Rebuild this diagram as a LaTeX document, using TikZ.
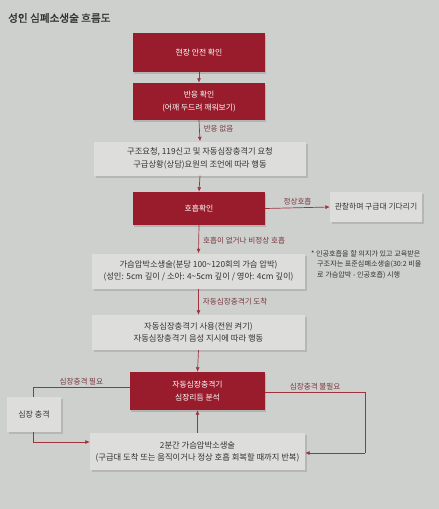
\documentclass[tikz,border=0pt]{standalone}
\usepackage{fontspec}
\newfontfamily\kr{Noto Sans CJK KR}
\newfontfamily\krbold[FakeBold=1.5]{Noto Sans CJK KR}
\usetikzlibrary{arrows.meta,shadows,calc}
\definecolor{bg}{RGB}{206,208,205}
\definecolor{boxred}{RGB}{152,28,43}
\definecolor{boxgray}{RGB}{221,221,219}
\definecolor{linered}{RGB}{160,50,62}
\definecolor{lblcol}{RGB}{120,55,62}
\definecolor{txt}{RGB}{50,50,50}
\tikzset{
  redbox/.style={draw=none, fill=boxred, text=white, font=\kr\fontsize{7.8}{12.5}\selectfont, align=center, inner sep=2pt,
    drop shadow={shadow xshift=1.2pt, shadow yshift=-1.5pt, opacity=0.35}},
  graybox/.style={draw=none, fill=boxgray, text=txt, font=\kr\fontsize{8.3}{12.5}\selectfont, align=center, inner sep=2pt,
    drop shadow={shadow xshift=1.5pt, shadow yshift=-2pt, opacity=0.3}},
  conn/.style={draw=linered, line width=0.7pt},
  arr/.style={conn, -{Latex[length=4.5pt,width=4pt]}},
  lbl/.style={text=lblcol, font=\kr\fontsize{7.6}{9}\selectfont, inner sep=1pt},
  note/.style={text=txt, font=\kr\fontsize{7.1}{10.7}\selectfont, align=left, inner sep=0pt},
}
\begin{document}
\begin{tikzpicture}[x=1pt,y=-1pt]
\fill[bg] (0,0) rectangle (439,509);
\useasboundingbox (0,0) rectangle (439,509);

\node[anchor=west, text=txt, font=\krbold\fontsize{10.6}{12}\selectfont, inner sep=0pt] (title) at (8,18) {성인 심폐소생술 흐름도};

\node[redbox, minimum width=132pt, minimum height=39pt] (b1) at (199,52.5) {현장 안전 확인};
\node[redbox, minimum width=132pt, minimum height=37pt] (b2) at (199,101.5) {반응 확인\\(어깨 두드려 깨워보기)};
\node[graybox, minimum width=212pt, minimum height=34pt] (b3) at (200,158.5) {구조요청, 119신고 및 자동심장충격기 요청\\구급상황(상담)요원의 조언에 따라 행동};
\node[redbox, minimum width=132pt, minimum height=33pt] (b4) at (199,208.5) {호흡확인};
\node[graybox, minimum width=92pt, minimum height=30pt, font=\kr\fontsize{7.8}{9}\selectfont] (b5) at (376,207) {관찰하며 구급대 기다리기};
\node[graybox, minimum width=213pt, minimum height=35pt] (b6) at (198.5,271) {가슴압박소생술(분당 100\textasciitilde120회의 가슴 압박)\\(성인: 5cm 깊이 / 소아: 4\textasciitilde5cm 깊이 / 영아: 4cm 깊이)};
\node[note, anchor=north west] (nt) at (311,250) {* 인공호흡을 할 의지가 있고 교육받은\\\hspace*{6pt}구조자는 표준심폐소생술(30:2 비율\\\hspace*{6pt}로 가슴압박 - 인공호흡) 시행};
\node[graybox, minimum width=213pt, minimum height=35pt] (b7) at (198.5,332.5) {자동심장충격기 사용(전원 켜기)\\자동심장충격기 음성 지시에 따라 행동};
\node[redbox, minimum width=135pt, minimum height=38pt] (b8) at (197.5,391) {자동심장충격기\\심장리듬 분석};
\node[graybox, minimum width=54pt, minimum height=35pt, font=\kr\fontsize{8}{9}\selectfont] (b9) at (34,414.5) {심장 충격};
\node[graybox, minimum width=215pt, minimum height=37pt, font=\kr\fontsize{8.3}{12}\selectfont] (b10) at (197.5,451.5) {2분간 가슴압박소생술\\(구급대 도착 또는 움직이거나 정상 호흡 회복할 때까지 반복)};

\coordinate (lc) at (33,387);
\coordinate (rc1) at (365,392);
\coordinate (rc2) at (365,453);
\coordinate (lc2) at (33,442);

\draw[arr] (b1.south) -- (b2.north);
\draw[arr] (b2.south) -- node[lbl, anchor=west, pos=0.4, xshift=3pt] (l1) {반응 없음} (b3.north);
\draw[arr] (b3.south) -- (b4.north);
\draw[arr] (b4.east) -- node[lbl, above, pos=0.5, yshift=1pt] (l2) {정상호흡} (b5.west);
\draw[arr] (b4.south) -- node[lbl, anchor=west, pos=0.55, xshift=3pt] (l3) {호흡이 없거나 비정상 호흡} (b6.north);
\draw[arr] (b6.south) -- node[lbl, anchor=west, pos=0.5, xshift=3pt] (l4) {자동심장충격기 도착} (b7.north);
\draw[arr] (b7.south) -- (b8.north);
\draw[conn] (b8.west |- lc) -- node[lbl, above, pos=0.5, yshift=1pt] (l5) {심장충격 필요} (lc) -- (b9.north -| lc);
\draw[arr] (b9.south -| lc2) -- (lc2) -- (b10.west |- lc2);
\draw[conn] (b8.east |- rc1) -- node[lbl, above, pos=0.5, yshift=1pt] (l6) {심장충격 불필요} (rc1) -- (rc2);
\draw[arr] (rc2) -- (b10.east |- rc2);
\draw[arr] (b10.north -| b8.south) -- (b8.south);
\end{tikzpicture}
\end{document}
